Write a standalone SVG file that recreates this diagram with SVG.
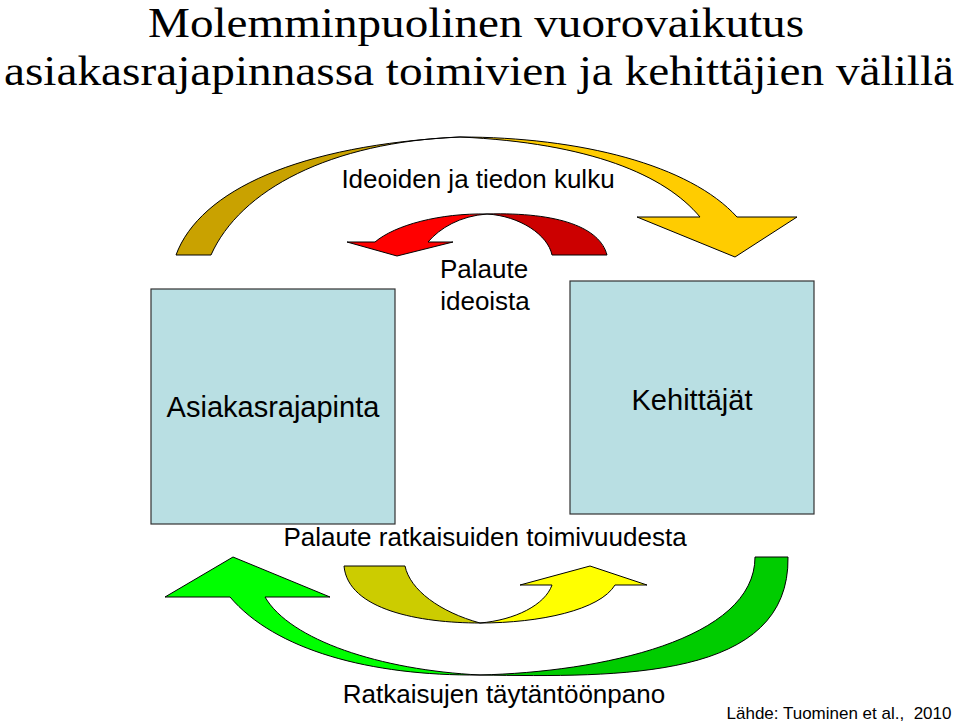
<svg xmlns="http://www.w3.org/2000/svg" width="960" height="724" viewBox="0 0 960 724">
<style>
.box{fill:#B9DFE3;stroke:#333;stroke-width:1.2}
.arr{stroke:#000;stroke-width:1;stroke-linejoin:round}
.lbl{font-family:"Liberation Sans",Arial,sans-serif;fill:#000;text-anchor:middle}
.title{font-family:"Liberation Serif","Times New Roman",serif;font-size:42px;fill:#000;text-anchor:middle}
</style>
<rect width="960" height="724" fill="#fff"/>
<g id="title">
<text class="title" x="476" y="37" textLength="656" lengthAdjust="spacingAndGlyphs">Molemminpuolinen vuorovaikutus</text>
<text class="title" x="479" y="85" textLength="950" lengthAdjust="spacingAndGlyphs">asiakasrajapinnassa toimivien ja kehittäjien välillä</text>
</g>
<g id="node-asiakasrajapinta">
<rect class="box" x="151" y="289" width="244" height="235"/>
<text class="lbl" x="273" y="417" font-size="29">Asiakasrajapinta</text>
</g>
<g id="node-kehittajat">
<rect class="box" x="570" y="281" width="244" height="233"/>
<text class="lbl" x="692" y="410" font-size="29">Kehittäjät</text>
</g>
<g id="connectors">
<g id="arrow-ideoiden">
<path class="arr" fill="#C9A200" d="M176,255 C200,190 300,145 460,137 C330,142 240,190 211,255 Z"/>
<path class="arr" fill="#FFCC00" d="M460,137 C580,137 690,165 737,217 L797,217 L735,257 L637,217 L700,217 C665,175 590,143 460,137 Z"/>
</g>
<g id="arrow-palaute-ideoista">
<path class="arr" fill="#CC0000" d="M607,255 C600,228 560,212 487,214 C520,216 548,235 552,255 Z"/>
<path class="arr" fill="#FF0000" d="M487,214 C440,213 395,225 375,242 L347,242 L397,256 L453,242 L428,242 C440,228 460,216 487,214 Z"/>
</g>
<g id="arrow-palaute-ratkaisuiden">
<path class="arr" fill="#CCCC00" d="M344,566 L405,566 C410,590 440,612 480,623 C420,623 348,610 344,566 Z"/>
<path class="arr" fill="#FFFF00" d="M480,623 C540,623 600,610 615,585 L647,585 L590,566 L520,585 L552,585 C545,605 515,620 480,623 Z"/>
</g>
<g id="arrow-ratkaisujen">
<path class="arr" fill="#00CC00" d="M788,557 L755,557 C755,640 600,672 480,675 C620,677 790,680 788,557 Z"/>
<path class="arr" fill="#00FF00" d="M480,675 C370,676 275,650 230,597 L165,597 L233,557 L330,597 L265,597 C290,640 380,670 480,675 Z"/>
</g>
</g>
<g id="labels">
<text class="lbl" x="478" y="188" font-size="26">Ideoiden ja tiedon kulku</text>
<text class="lbl" x="484" y="278" font-size="26">Palaute</text>
<text class="lbl" x="485" y="310" font-size="26">ideoista</text>
<text class="lbl" x="485" y="546" font-size="26">Palaute ratkaisuiden toimivuudesta</text>
<text class="lbl" x="504" y="703" font-size="26">Ratkaisujen täytäntöönpano</text>
<text class="lbl" x="839" y="719" font-size="17" style="white-space:pre">Lähde: Tuominen et al.,  2010</text>
</g>
</svg>
